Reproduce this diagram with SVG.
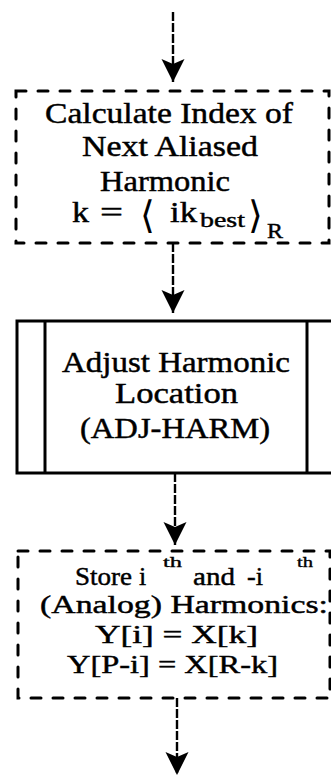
<svg xmlns="http://www.w3.org/2000/svg" width="331" height="777" viewBox="0 0 331 777">
<style>
  .t { font-family: "Liberation Serif", "DejaVu Serif", serif; font-size: 29px; fill: #000; stroke: #000; stroke-width: 0.45; }
  .u { font-family: "Liberation Serif", "DejaVu Serif", serif; font-size: 26px; fill: #000; stroke: #000; stroke-width: 0.45; }
  .s { font-family: "Liberation Serif", "DejaVu Serif", serif; font-size: 20px; fill: #000; stroke: #000; stroke-width: 0.4; }
  .sup { font-family: "Liberation Serif", "DejaVu Serif", serif; font-size: 15px; fill: #000; stroke: #000; stroke-width: 0.35; }
  .br { font-family: "DejaVu Serif", "Liberation Serif", serif; font-size: 38px; fill: #000; }
  .dash { fill: none; stroke: #000; stroke-width: 3; stroke-dasharray: 10 12; stroke-linecap: round; }
  .solid { fill: none; stroke: #000; stroke-width: 3; }
  .conn { fill: none; stroke: #000; stroke-width: 2.4; stroke-dasharray: 9 2; }
</style>
<defs>
  <marker id="ah" markerUnits="userSpaceOnUse" markerWidth="24" markerHeight="24" viewBox="0 -12 24 24" refX="23" refY="0" orient="auto">
    <path d="M0,-11.5 L23,0 L0,11.5 L5,0 Z" fill="#000"/>
  </marker>
</defs>
<rect width="331" height="777" fill="#fff"/>
<g id="connectors">
  <line class="conn" x1="173" y1="12" x2="173" y2="82" marker-end="url(#ah)"/>
  <line class="conn" x1="173" y1="243" x2="173" y2="313" marker-end="url(#ah)"/>
  <line class="conn" x1="175" y1="473" x2="175" y2="545" marker-end="url(#ah)"/>
  <line class="conn" x1="177" y1="698" x2="177" y2="775" marker-end="url(#ah)"/>
</g>
<g id="calc-index">
  <rect class="dash" x="16" y="91" width="313" height="152"/>
  <text class="t" x="45" y="123" textLength="248" lengthAdjust="spacingAndGlyphs">Calculate Index of</text>
  <text class="t" x="82" y="156" textLength="176" lengthAdjust="spacingAndGlyphs">Next Aliased</text>
  <text class="t" x="100" y="191" textLength="130" lengthAdjust="spacingAndGlyphs">Harmonic</text>
  <text class="t" x="72" y="222" textLength="17" lengthAdjust="spacingAndGlyphs">k</text>
  <text class="t" x="100" y="222" textLength="23" lengthAdjust="spacingAndGlyphs">=</text>
  <text class="br" x="140" y="228">⟨</text>
  <text class="t" x="170" y="222" textLength="27" lengthAdjust="spacingAndGlyphs">ik</text>
  <text class="s" x="200" y="227" textLength="45" lengthAdjust="spacingAndGlyphs">best</text>
  <text class="br" x="248" y="228">⟩</text>
  <text class="s" x="267" y="238" font-size="22" textLength="16" lengthAdjust="spacingAndGlyphs">R</text>
</g>
<g id="adj-harm">
  <rect class="solid" x="17" y="321" width="320" height="152"/>
  <line class="solid" x1="45" y1="321" x2="45" y2="473"/>
  <line class="solid" x1="307" y1="321" x2="307" y2="473"/>
  <text class="t" x="62" y="372" textLength="228" lengthAdjust="spacingAndGlyphs">Adjust Harmonic</text>
  <text class="t" x="115" y="403" textLength="123" lengthAdjust="spacingAndGlyphs">Location</text>
  <text class="t" x="80" y="438" textLength="190" lengthAdjust="spacingAndGlyphs">(ADJ-HARM)</text>
</g>
<g id="store">
  <rect class="dash" x="18" y="551" width="312" height="147"/>
  <text class="u" x="75" y="585" textLength="57" lengthAdjust="spacingAndGlyphs">Store</text>
  <text class="u" x="139" y="585">i</text>
  <text class="sup" x="163" y="567" textLength="19" lengthAdjust="spacingAndGlyphs">th</text>
  <text class="u" x="193" y="585" textLength="42" lengthAdjust="spacingAndGlyphs">and</text>
  <text class="u" x="247" y="585" textLength="16" lengthAdjust="spacingAndGlyphs">-i</text>
  <text class="sup" x="297" y="567" textLength="16" lengthAdjust="spacingAndGlyphs">th</text>
  <text class="u" x="40" y="613" textLength="288" lengthAdjust="spacingAndGlyphs">(Analog) Harmonics:</text>
  <text class="u" x="95" y="643" textLength="163" lengthAdjust="spacingAndGlyphs">Y[i] = X[k]</text>
  <text class="u" x="67" y="673" textLength="211" lengthAdjust="spacingAndGlyphs">Y[P-i] = X[R-k]</text>
</g>
</svg>
